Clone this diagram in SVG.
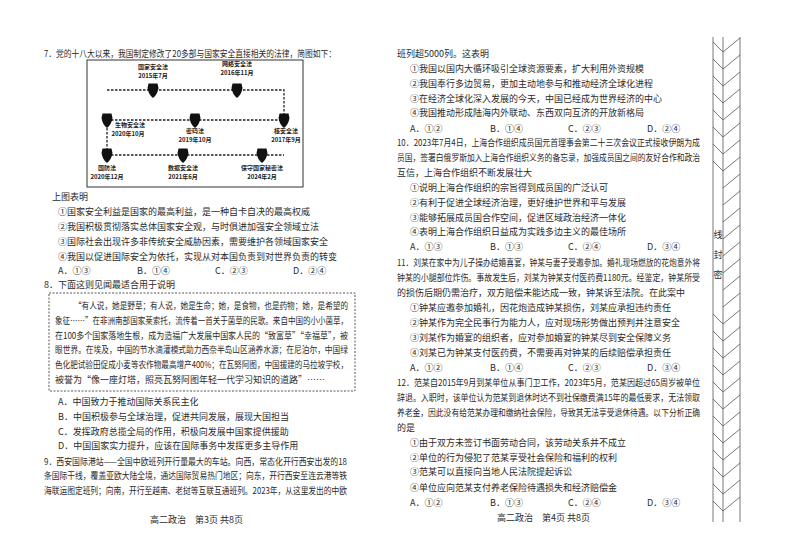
<svg xmlns="http://www.w3.org/2000/svg" width="800" height="551" viewBox="0 0 800 551">
<style>
text{font-family:"Noto Sans CJK SC","Noto Sans",sans-serif;font-size:9px;fill:#2a2a2a}
.s{font-size:6px;font-weight:bold;text-anchor:middle;fill:#222}
.d{stroke:#222;stroke-width:1.3;stroke-dasharray:2.5 1.5;fill:none}
.b{stroke:#555;stroke-width:0.8;fill:none}
</style>
<defs>
<path id="sh" d="M-4.5,-6.5 L4.5,-6.5 L5.5,-2 Q4.5,4.5 0,8 Q-4.5,4.5 -5.5,-2 Z" fill="#111"/>
</defs>
<rect width="800" height="551" fill="#fff"/>
<g id="q7">
<text x="44" y="57" textLength="292" lengthAdjust="spacingAndGlyphs">7．党的十八大以来，我国制定修改了20多部与国家安全直接相关的法律，简图如下：</text>
<rect x="87" y="60" width="216" height="127" fill="#fff" stroke="#333" stroke-width="1"/>
</g>
<g id="connectors">
<path class="d" d="M107,90 H284 V120"/>
<path class="d" d="M107,120 H284"/>
<path class="d" d="M107,120 V155"/>
<path class="d" d="M107,155 H284"/>
</g>
<g id="n1"><use href="#sh" x="153" y="90"/><text class="s" x="153" y="69">国家安全法</text><text class="s" x="153" y="78">2015年7月</text></g>
<g id="n2"><use href="#sh" x="237" y="90"/><text class="s" x="237" y="66">网络安全法</text><text class="s" x="237" y="75">2016年11月</text></g>
<g id="n3"><use href="#sh" x="284" y="120"/><text class="s" x="286" y="133">核安全法</text><text class="s" x="286" y="142">2017年9月</text></g>
<g id="n4"><use href="#sh" x="195" y="120"/><text class="s" x="195" y="133">密码法</text><text class="s" x="195" y="142">2019年10月</text></g>
<g id="n5"><use href="#sh" x="107" y="120"/><text class="s" x="130" y="127">生物安全法</text><text class="s" x="128" y="136">2020年10月</text></g>
<g id="n6"><use href="#sh" x="107" y="155"/><text class="s" x="107" y="170">国防法</text><text class="s" x="107" y="179">2020年12月</text></g>
<g id="n7"><use href="#sh" x="183" y="155"/><text class="s" x="183" y="170">数据安全法</text><text class="s" x="183" y="179">2021年6月</text></g>
<g id="n8"><use href="#sh" x="262" y="155"/><text class="s" x="262" y="170">保守国家秘密法</text><text class="s" x="262" y="179">2024年2月</text></g>
<g id="left">
<text x="52" y="200">上图表明</text>
<text x="58" y="215">①国家安全利益是国家的最高利益，是一种自卡自决的最高权威</text>
<text x="58" y="230">②我国积极贯彻落实总体国家安全观，与时俱进加强安全领域立法</text>
<text x="58" y="245">③国际社会出现许多非传统安全威胁因素，需要维护各领域国家安全</text>
<text x="58" y="260">④我国以促进国际安全为依托，实现从对本国负责到对世界负责的转变</text>
<text x="58" y="274">A．①③</text><text x="137" y="274">B．①④</text><text x="215" y="274">C．②③</text><text x="293" y="274">D．②④</text>
<text x="44" y="288">8．下面这则见闻最适合用于说明</text>
<rect x="49" y="293" width="306" height="98" fill="none" stroke="#444" stroke-width="0.9" stroke-dasharray="2 1.5"/>
<text x="74" y="309" textLength="274" lengthAdjust="spacingAndGlyphs">“有人说，她是野草；有人说，她是生命；她，是食物，也是药物；她，是希望的</text>
<text x="55" y="324" textLength="293" lengthAdjust="spacingAndGlyphs">象征……”在非洲南部国家莱索托，流传着一首关于菌草的民歌。来自中国的小小菌草，</text>
<text x="55" y="339" textLength="293" lengthAdjust="spacingAndGlyphs">在100多个国家落地生根，成为造福广大发展中国家人民的“致富草”“幸福草”，被</text>
<text x="55" y="353" textLength="293" lengthAdjust="spacingAndGlyphs">眼世界。在埃及，中国的节水滴灌模式助力西奈半岛山区涵养水源；在尼泊尔，中国绿</text>
<text x="55" y="368" textLength="293" lengthAdjust="spacingAndGlyphs">色化肥试验田促成小麦等农作物最高增产400%；在瓦努阿图，中国援建的马拉坡学校，</text>
<text x="55" y="383">被誉为“像一座灯塔，照亮瓦努阿图年轻一代学习知识的道路”……</text>
<text x="58" y="405">A．中国致力于推动国际关系民主化</text>
<text x="58" y="420">B．中国积极参与全球治理，促进共同发展，展现大国担当</text>
<text x="58" y="435">C．发挥政府总揽全局的作用，积极向发展中国家提供援助</text>
<text x="58" y="449">D．中国国家实力提升，应该在国际事务中发挥更多主导作用</text>
<text x="44" y="465" textLength="303" lengthAdjust="spacingAndGlyphs">9．西安国际港站——全国中欧班列开行量最大的车站。向西，常态化开行西安出发的18</text>
<text x="44" y="479" textLength="303" lengthAdjust="spacingAndGlyphs">条国际干线，覆盖亚欧大陆全境，通达国际贸易热门地区；向东，开行西安至连云港等铁</text>
<text x="44" y="494" textLength="303" lengthAdjust="spacingAndGlyphs">海联运图定班列；向南，开行至越南、老挝等互联互通班列。2023年，从这里发出的中欧</text>
<text x="150" y="523" font-size="8">高二政治　第3页 共8页</text>
</g>
<g id="right">
<text x="397" y="57">班列超5000列。这表明</text>
<text x="410" y="72">①我国以国内大循环吸引全球资源要素，扩大利用外资规模</text>
<text x="410" y="87">②我国奉行多边贸易，更加主动地参与和推动经济全球化进程</text>
<text x="410" y="102">③在经济全球化深入发展的今天，中国已经成为世界经济的中心</text>
<text x="410" y="116">④我国推动形成陆海内外联动、东西双向互济的开放新格局</text>
<text x="410" y="132">A．①②</text><text x="490" y="132">B．①④</text><text x="568" y="132">C．②③</text><text x="647" y="132">D．②④</text>
<text x="397" y="146" textLength="303" lengthAdjust="spacingAndGlyphs">10．2023年7月4日，上海合作组织成员国元首理事会第二十三次会议正式接收伊朗为成</text>
<text x="397" y="161" textLength="303" lengthAdjust="spacingAndGlyphs">员国，签署白俄罗斯加入上海合作组织义务的备忘录，加强成员国之间的友好合作和政治</text>
<text x="397" y="176">互信，上海合作组织不断发展壮大</text>
<text x="410" y="191">①说明上海合作组织的宗旨得到成员国的广泛认可</text>
<text x="410" y="206">②有利于促进全球经济治理，更好维护世界和平与发展</text>
<text x="410" y="221">③能够拓展成员国合作空间，促进区域政治经济一体化</text>
<text x="410" y="235">④表明上海合作组织日益成为实践多边主义的最佳场所</text>
<text x="410" y="250">A．①③</text><text x="490" y="250">B．①③</text><text x="568" y="250">C．②④</text><text x="647" y="250">D．③④</text>
<text x="397" y="266" textLength="303" lengthAdjust="spacingAndGlyphs">11．刘某在家中为儿子操办结婚喜宴，钟某与妻子受邀参加。婚礼现场燃放的花炮意外将</text>
<text x="397" y="281" textLength="303" lengthAdjust="spacingAndGlyphs">钟某的小腿部位炸伤。事故发生后，刘某为钟某支付医药费1180元。经鉴定，钟某所受</text>
<text x="397" y="296">的损伤后期仍需治疗，双方赔偿未能达成一致，钟某诉至法院。在此案中</text>
<text x="410" y="311">①钟某应邀参加婚礼，因花炮造成钟某损伤，刘某应承担违约责任</text>
<text x="410" y="326">②钟某作为完全民事行为能力人，应对现场形势做出预判并注意安全</text>
<text x="410" y="341">③刘某作为婚宴的组织者，应对参加婚宴的钟某尽到安全保障义务</text>
<text x="410" y="356">④刘某已为钟某支付医药费，不需要再对钟某的后续赔偿承担责任</text>
<text x="410" y="371">A．①②</text><text x="490" y="371">B．①④</text><text x="568" y="371">C．②③</text><text x="647" y="371">D．③④</text>
<text x="397" y="386" textLength="303" lengthAdjust="spacingAndGlyphs">12．范某自2015年9月到某单位从事门卫工作，2023年5月，范某因超过65周岁被单位</text>
<text x="397" y="401" textLength="303" lengthAdjust="spacingAndGlyphs">辞退。入职时，该单位认为范某到退休时达不到社保缴费满15年的最低要求，无法领取</text>
<text x="397" y="416" textLength="303" lengthAdjust="spacingAndGlyphs">养老金，因此没有给范某办理和缴纳社会保险，导致其无法享受退休待遇。以下分析正确</text>
<text x="397" y="431">的是</text>
<text x="410" y="446">①由于双方未签订书面劳动合同，该劳动关系并不成立</text>
<text x="410" y="461">②单位的行为侵犯了范某享受社会保险和福利的权利</text>
<text x="410" y="475">③范某可以直接向当地人民法院提起诉讼</text>
<text x="410" y="491">④单位应向范某支付养老保险待遇损失和经济赔偿金</text>
<text x="410" y="506">A．①②</text><text x="490" y="506">B．①③</text><text x="568" y="506">C．②④</text><text x="647" y="506">D．③④</text>
<text x="497" y="521" font-size="8">高二政治　第4页 共8页</text>
</g>
<g id="binding">
<path class="b" d="M713,37 V522 M723,37 V522 M740,37 V522"/>
<path class="b" d="M713,42 L723,52 L740,38 M713,59 L723,69 L740,55 M713,76 L723,86 L740,72 M713,93 L723,103 L740,89 M713,110 L723,120 L740,106 M713,127 L723,137 L740,123 M713,144 L723,154 L740,140 M713,161 L723,171 L740,157 M723,188 L740,174 M723,205 L740,191 M723,222 L740,208 M723,239 L740,225 M723,256 L740,242 M723,273 L740,259 M723,290 L740,276 M723,307 L740,293 M713,314 L723,324 L740,310 M713,331 L723,341 L740,327 M713,348 L723,358 L740,344 M713,365 L723,375 L740,361 M713,382 L723,392 L740,378 M713,399 L723,409 L740,395 M713,416 L723,426 L740,412 M713,433 L723,443 L740,429 M713,450 L723,460 L740,446 M713,467 L723,477 L740,463 M713,484 L723,494 L740,480 M713,501 L723,511 L740,497"/>
<text x="718" y="238" font-size="6" text-anchor="middle">线</text>
<text x="718" y="258" font-size="6" text-anchor="middle">封</text>
<text x="718" y="278" font-size="6" text-anchor="middle">密</text>
</g>
</svg>
